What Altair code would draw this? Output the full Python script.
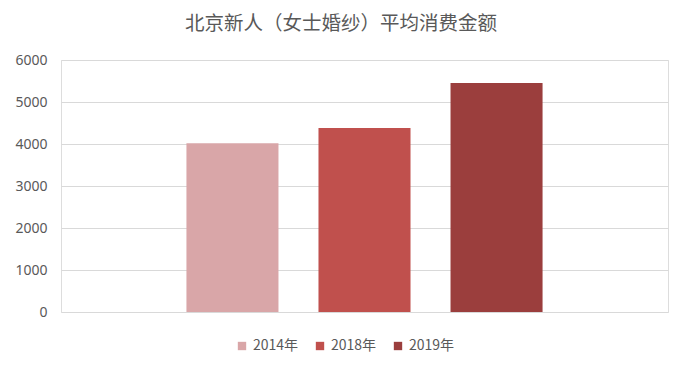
import altair as alt
import pandas as pd

title = "北京新人（女士婚纱）平均消费金额"
years = ["2014年", "2018年", "2019年"]
values = [4020, 4380, 5450]
colors = ["#D9A6A8", "#C0504D", "#9B3E3D"]

df = pd.DataFrame({"year": years, "value": values})

bars = alt.Chart(df).mark_bar().encode(
    x=alt.X("year:N", sort=years, axis=None,
            scale=alt.Scale(paddingInner=0.303, paddingOuter=0.95)),
    y=alt.Y("value:Q", scale=alt.Scale(domain=[0, 6000]),
            axis=alt.Axis(values=[0, 1000, 2000, 3000, 4000, 5000, 6000],
                          format="d",
                          title=None, domain=False, ticks=False,
                          labelColor="#595959", labelFontSize=14,
                          labelFont="Noto Sans", labelPadding=14,
                          gridColor="#d9d9d9", gridWidth=1.2)),
    color=alt.Color("year:N", sort=years,
                    scale=alt.Scale(domain=years, range=colors),
                    legend=alt.Legend(orient="none", legendX=174, legendY=279,
                                      direction="horizontal",
                                      title=None, symbolType="square",
                                      symbolSize=70, symbolStrokeWidth=0,
                                      labelFontSize=14, labelColor="#595959",
                                      labelFont="Noto Sans CJK SC",
                                      columnPadding=14)),
)

title_text = alt.Chart(pd.DataFrame({"t": [title]})).mark_text(
    font="Noto Sans CJK SC", fontSize=19.5, color="#595959",
    align="center", baseline="middle"
).encode(text="t:N", x=alt.value(280), y=alt.value(-36))

chart = alt.layer(bars, title_text).properties(
    width=607,
    height=252,
    autosize=alt.AutoSizeParams(type="none"),
    padding={"left": 53, "top": 52, "right": 10, "bottom": 50},
).configure_view(
    fill="#f1f1f1", stroke="#d9d9d9", strokeWidth=1
).configure(background="white")

chart.save("out.html", embed_options={"renderer": "svg", "actions": False})
